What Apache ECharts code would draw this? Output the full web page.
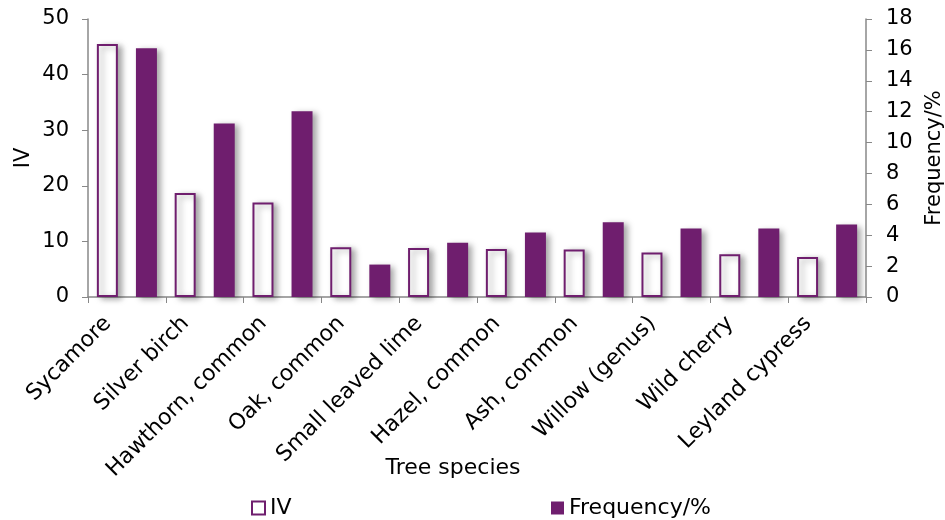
<!doctype html>
<html>
<head>
<meta charset="utf-8">
<title></title>
<script src="https://cdn.jsdelivr.net/npm/echarts@6/dist/echarts.min.js"></script>
<style>
  html, body { margin: 0; padding: 0; background: #fff; }
  #container { width: 945px; height: 520px; }
</style>
</head>
<body>
<div id="container"></div>
<script type="text/javascript">
var species = ['Sycamore', 'Silver birch', 'Hawthorn, common', 'Oak, common', 'Small leaved lime',
  'Hazel, common', 'Ash, common', 'Willow (genus)', 'Wild cherry', 'Leyland cypress'];
var ivValues = [45.5, 18.7, 17.0, 8.95, 8.8, 8.65, 8.55, 8.0, 7.7, 7.2];
var freqValues = [16.1, 11.24, 12.03, 2.1, 3.52, 4.17, 4.84, 4.43, 4.43, 4.69];

var purple = '#6f1e6e';
var font = 'DejaVu Sans, Verdana, sans-serif';

var myChart = echarts.init(document.getElementById('container'));

var shadow = {
  shadowColor: 'rgba(0,0,0,0.35)',
  shadowBlur: 6,
  shadowOffsetX: 4,
  shadowOffsetY: 2
};

var legendText = { fontSize: 22, fontFamily: font, color: '#000' };

var option = {
  animation: false,
  textStyle: { fontFamily: font, color: '#000' },
  grid: { left: 88, right: 79, top: 19, bottom: 223, containLabel: false, outerBoundsMode: 'none' },
  legend: [{
    top: 492,
    left: 246,
    itemWidth: 13,
    itemHeight: 13,
    itemGap: 6,
    textStyle: legendText,
    data: [{ name: 'IV', icon: 'rect', itemStyle: { color: '#fff', borderColor: purple, borderWidth: 2 } }]
  }, {
    top: 492,
    left: 546,
    itemWidth: 13,
    itemHeight: 13,
    textStyle: legendText,
    data: [{ name: 'Frequency/%', icon: 'rect', itemStyle: { color: purple } }]
  }],
  xAxis: {
    type: 'category',
    data: species,
    name: 'Tree species',
    nameLocation: 'middle',
    nameGap: 160,
    nameMoveOverlap: false,
    nameTextStyle: { fontSize: 22, fontFamily: font, color: '#000', padding: [0, 48, 0, 0] },
    axisLine: { lineStyle: { color: '#888', width: 1.5 } },
    axisTick: { show: true, alignWithLabel: false, length: 6, lineStyle: { color: '#888' } },
    axisLabel: { rotate: 45, fontSize: 22, fontFamily: font, color: '#000', margin: 4, padding: [0, 27, 0, 0], interval: 0 }
  },
  yAxis: [{
    type: 'value',
    min: 0,
    max: 50,
    interval: 10,
    name: 'IV',
    nameLocation: 'middle',
    nameGap: 54,
    nameMoveOverlap: false,
    nameTextStyle: { fontSize: 21, fontFamily: font, color: '#000' },
    axisLine: { show: true, lineStyle: { color: '#888', width: 1.5 } },
    axisTick: { show: true, length: 6, lineStyle: { color: '#888' } },
    axisLabel: { fontSize: 21, fontFamily: font, color: '#000', margin: 19 },
    splitLine: { show: false }
  }, {
    type: 'value',
    min: 0,
    max: 18,
    interval: 2,
    name: 'Frequency/%',
    nameLocation: 'middle',
    nameRotate: 90,
    nameGap: 58,
    nameMoveOverlap: false,
    nameTextStyle: { fontSize: 21, fontFamily: font, color: '#000' },
    axisLine: { show: true, lineStyle: { color: '#888', width: 1.5 } },
    axisTick: { show: true, length: 6, lineStyle: { color: '#888' } },
    axisLabel: { fontSize: 21, fontFamily: font, color: '#000', margin: 20 },
    splitLine: { show: false }
  }],
  series: [{
    name: 'IV',
    type: 'bar',
    yAxisIndex: 0,
    barWidth: 21,
    barGap: '86%',
    itemStyle: Object.assign({ color: '#fff', borderColor: purple, borderWidth: 2 }, shadow),
    data: ivValues
  }, {
    name: 'Frequency/%',
    type: 'bar',
    yAxisIndex: 1,
    barWidth: 21,
    barGap: '86%',
    itemStyle: Object.assign({ color: purple }, shadow),
    data: freqValues
  }]
};

myChart.setOption(option);
</script>
</body>
</html>
